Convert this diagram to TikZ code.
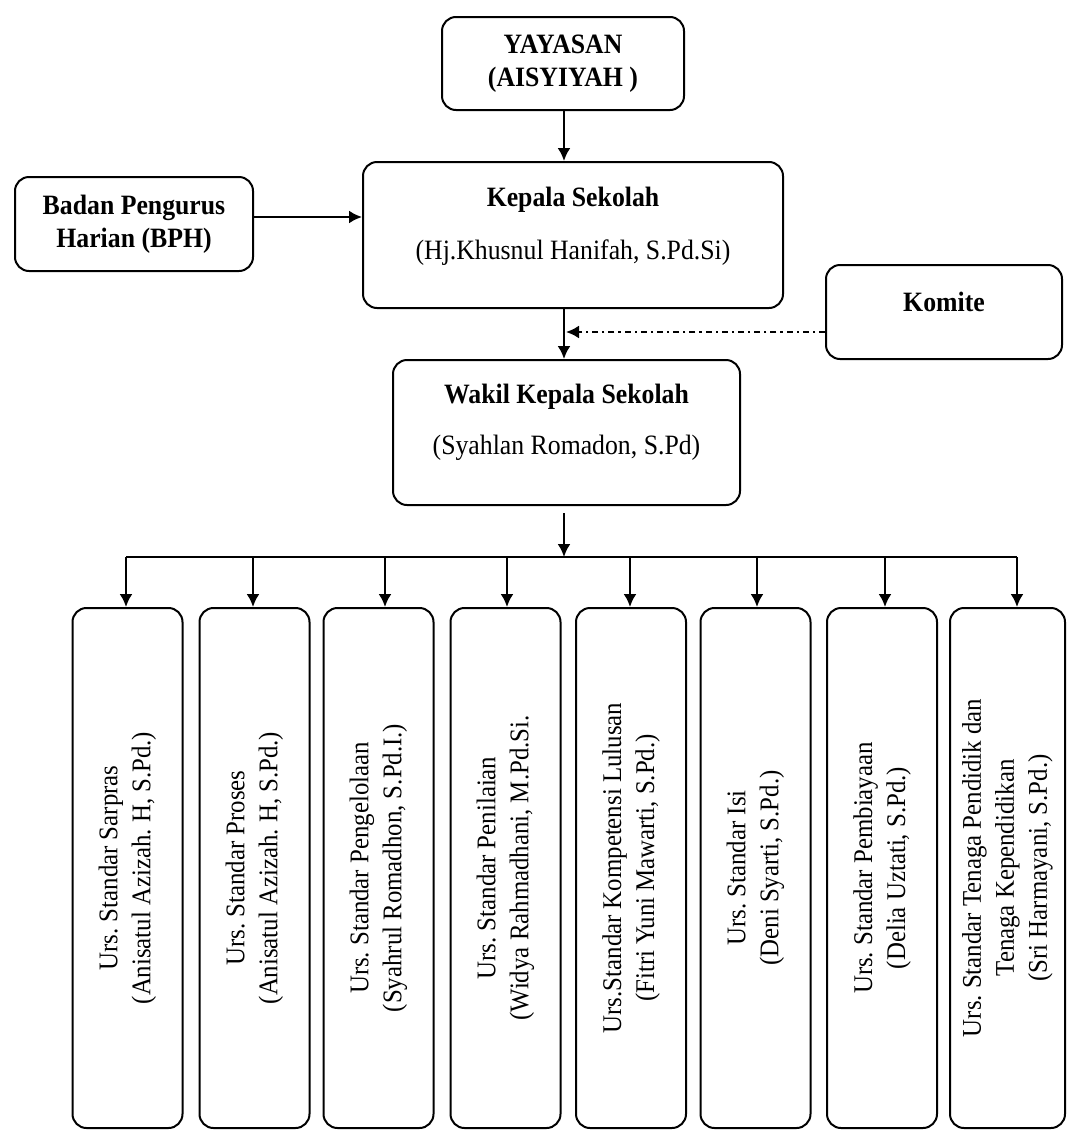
\documentclass[tikz,border=0pt]{standalone}
\usepackage{fontspec}
\setmainfont{Liberation Serif}[FakeStretch=0.92]
\usetikzlibrary{positioning,arrows.meta}
\frenchspacing

\begin{document}
\begin{tikzpicture}[x=0.5pt,y=-0.5pt,
    box/.style={draw,rounded corners=7pt,line width=1pt,align=center,inner sep=0pt},
    head/.style={box,font=\bfseries\fontsize{14}{16.5}\selectfont},
    unit/.style={box,minimum width=55pt,minimum height=260pt},
    utext/.style={rotate=90,align=center,font=\fontsize{13.5}{16.5}\selectfont},
    line/.style={-{Latex[length=6.5pt,width=6.5pt]},line width=1.1pt},
    bus/.style={line width=1.4pt}
]
    \useasboundingbox (0,0) rectangle (1073,1130);

    % Top
    \node at (563,63.5) [head,minimum width=121pt,minimum height=46.5pt] (yayasan) {YAYASAN\\(AISYIYAH )};
    \node at (573,235) [head,minimum width=210pt,minimum height=73pt,text depth=12pt] (kepala) {Kepala Sekolah\\[10pt]{\mdseries(Hj.Khusnul Hanifah, S.Pd.Si)}};
    \node at (134,224) [head,minimum width=119pt,minimum height=47pt] (bph) {Badan Pengurus\\Harian (BPH)};
    \node at (944,312) [head,minimum width=118pt,minimum height=47pt,text depth=10pt] (komite) {Komite};
    \node at (566.5,432.5) [head,minimum width=173.5pt,minimum height=72.5pt,text depth=13pt] (wakil) {Wakil Kepala Sekolah\\[9pt]{\mdseries(Syahlan Romadon, S.Pd)}};

    \coordinate (spine) at (564,0);
    \coordinate (kom) at ([yshift=-10pt]komite.west);
    \coordinate (bph0) at ([yshift=3.5pt]bph.east);

    \draw [line] (spine |- yayasan.south) -> (spine |- kepala.north);
    \draw [line] (bph0) -> (bph0 -| kepala.west);
    \draw [line] (spine |- kepala.south) -> (spine |- wakil.north);
    \draw [line,dash dot] (kom) -> ([xshift=1pt]spine |- kom);

    % Units
    \node at (127.5,868) [unit] (u1) {};
    \node at (254.5,868) [unit] (u2) {};
    \node at (378.5,868) [unit] (u3) {};
    \node at (505.5,868) [unit] (u4) {};
    \node at (631,868) [unit] (u5) {};
    \node at (755.5,868) [unit] (u6) {};
    \node at (882,868) [unit] (u7) {};
    \node at (1007.5,868) [unit,minimum width=57.5pt] (u8) {};

    \node at (u1) [utext] (t1) {Urs. Standar Sarpras\\(Anisatul Azizah. H, S.Pd.)};
    \node at (u2) [utext] (t2) {Urs. Standar Proses\\(Anisatul Azizah. H, S.Pd.)};
    \node at (u3) [utext] (t3) {Urs. Standar Pengelolaan\\(Syahrul Romadhon, S.Pd.I.)};
    \node at (u4) [utext] (t4) {Urs. Standar Penilaian\\(Widya Rahmadhani, M.Pd.Si.};
    \node at (u5) [utext] (t5) {Urs.Standar Kompetensi Lulusan\\(Fitri Yuni Mawarti, S.Pd.)};
    \node at (u6) [utext] (t6) {Urs. Standar Isi\\(Deni Syarti, S.Pd.)};
    \node at (u7) [utext] (t7) {Urs. Standar Pembiayaan\\(Delia Uztati, S.Pd.)};
    \node at (u8) [utext] (t8) {Urs. Standar Tenaga Pendidik dan\\Tenaga Kependidikan\\(Sri Harmayani, S.Pd.)};

    % Bus
    \coordinate (d1) at (126,557);
    \coordinate (d2) at (253,557);
    \coordinate (d3) at (385,557);
    \coordinate (d4) at (507,557);
    \coordinate (d5) at (630,557);
    \coordinate (d6) at (757,557);
    \coordinate (d7) at (885,557);
    \coordinate (d8) at (1017,557);

    \draw [line,shorten <=3.5pt] (spine |- wakil.south) -> (spine |- d1);
    \draw [bus] (d1) -- (d8);
    \draw [line] (d1) -> (d1 |- u1.north);
    \draw [line] (d2) -> (d2 |- u2.north);
    \draw [line] (d3) -> (d3 |- u3.north);
    \draw [line] (d4) -> (d4 |- u4.north);
    \draw [line] (d5) -> (d5 |- u5.north);
    \draw [line] (d6) -> (d6 |- u6.north);
    \draw [line] (d7) -> (d7 |- u7.north);
    \draw [line] (d8) -> (d8 |- u8.north);
\end{tikzpicture}
\end{document}
